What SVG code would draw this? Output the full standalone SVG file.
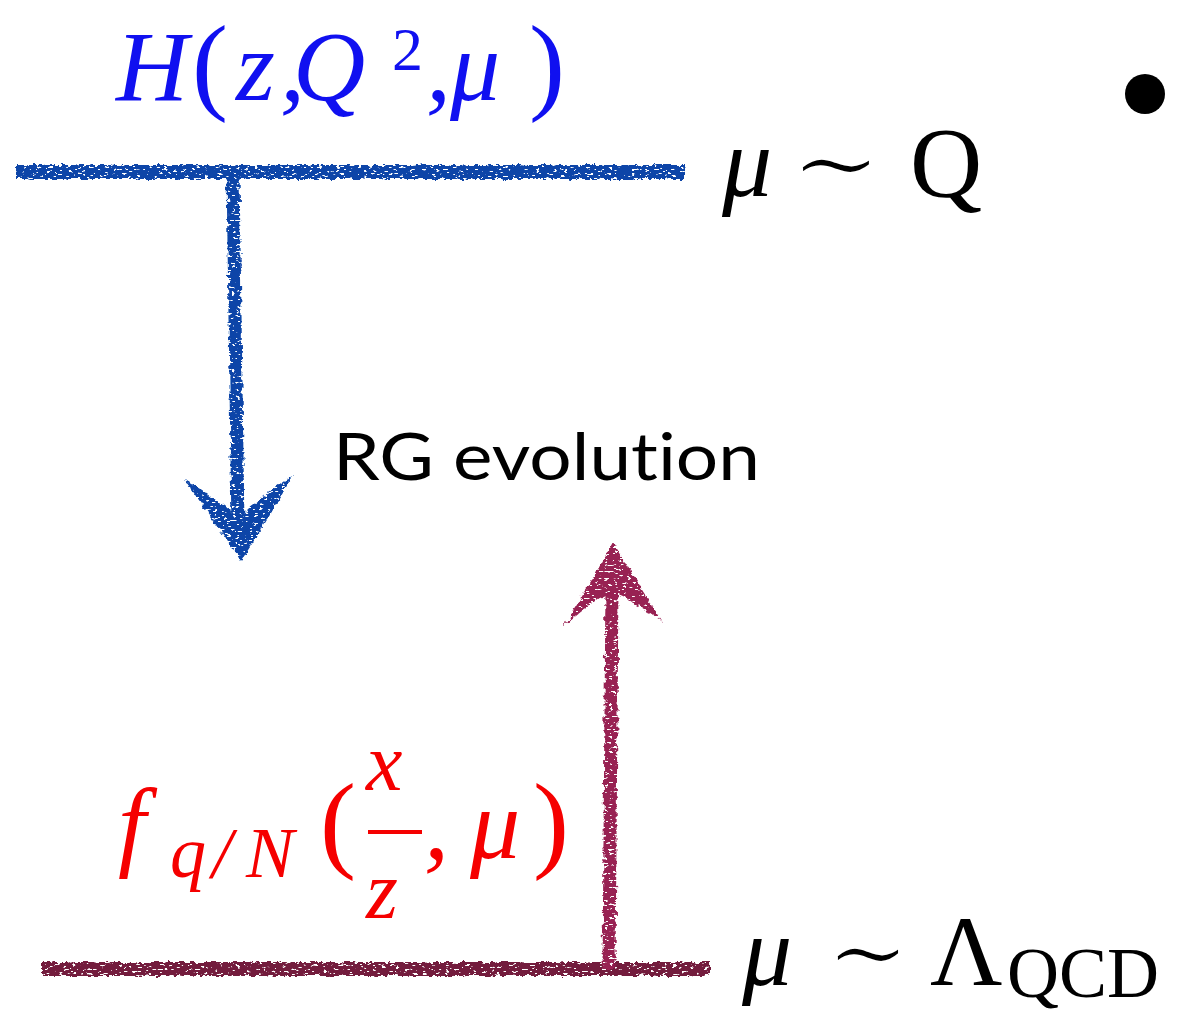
<svg xmlns="http://www.w3.org/2000/svg" width="1179" height="1014" viewBox="0 0 1179 1014">
<defs>
<filter id="rough" filterUnits="userSpaceOnUse" x="0" y="0" width="1179" height="1014">
<feTurbulence type="fractalNoise" baseFrequency="0.18" numOctaves="3" seed="3" result="n"/>
<feDisplacementMap in="SourceGraphic" in2="n" scale="6" xChannelSelector="R" yChannelSelector="G" result="d"/>
<feTurbulence type="fractalNoise" baseFrequency="0.22 0.45" numOctaves="2" seed="11" result="n2"/>
<feColorMatrix in="n2" type="matrix" values="0 0 0 0 0  0 0 0 0 0  0 0 0 0 0  18 0 0 0 -5.6" result="mask"/>
<feComposite in="d" in2="mask" operator="in"/>
</filter>
</defs>
<style>
.m{font-family:"Liberation Serif","DejaVu Serif",serif;}
.i{font-style:italic;}
.t{font-family:"DejaVu Serif",serif;font-style:normal;stroke:#fff;stroke-width:2.5;}
.blue{fill:#1010f0;}
.red{fill:#f50000;}
.blk{fill:#000;}
.sans{font-family:Lato,"Open Sans","Liberation Sans",sans-serif;fill:#000;font-variant-ligatures:none;}
</style>
<rect width="1179" height="1014" fill="#fff"/>

<g id="connectors" filter="url(#rough)">
<line x1="16" y1="172" x2="685" y2="172" stroke="#0a45a8" stroke-width="14"/>
<line x1="233" y1="172" x2="238" y2="528" stroke="#0a45a8" stroke-width="13"/>
<path d="M185,480 Q214,496 238,518 Q262,496 293,475 Q268,520 241,561 Q213,520 185,480 Z" fill="#0a45a8"/>
<line x1="42" y1="969" x2="710" y2="969" stroke="#731a3e" stroke-width="14"/>
<line x1="609" y1="969" x2="612" y2="585" stroke="#982052" stroke-width="13"/>
<path d="M613,542 Q638,585 663,622 Q636,602 612,592 Q588,602 563,627 Q590,585 613,542 Z" fill="#982052"/>
</g>

<g id="hard">
<text class="m blue" font-size="100" y="100"><tspan class="i" x="116">H</tspan><tspan x="192" font-size="108">(</tspan><tspan class="i" x="236">z</tspan><tspan class="i" x="280">,</tspan><tspan class="i" x="293">Q</tspan><tspan x="392" y="70" font-size="62">2</tspan><tspan class="i" x="426" y="100">,</tspan><tspan class="i" x="450">μ</tspan><tspan x="529" font-size="108">)</tspan></text>
</g>

<g id="scale-high">
<text class="m blk" font-size="100" y="196"><tspan class="i" x="722">μ</tspan><tspan class="t" x="790" font-size="96" textLength="92" lengthAdjust="spacingAndGlyphs">∼</tspan><tspan x="910">Q</tspan></text>
</g>

<g id="bullet"><circle cx="1145" cy="94" r="20" fill="#000"/></g>

<g id="rg-label">
<text class="sans" x="333" y="480" font-size="66" textLength="427" lengthAdjust="spacingAndGlyphs">RG evolution</text>
</g>

<g id="pdf">
<text class="m red" font-size="100" y="858"><tspan class="i" x="118">f</tspan><tspan class="i" x="170" y="877" font-size="72">q</tspan><tspan class="i" x="212" font-size="72">/</tspan><tspan class="i" x="246" font-size="72">N</tspan><tspan x="320" y="858" font-size="108">(</tspan><tspan class="i" x="424">,</tspan><tspan class="i" x="470">μ</tspan><tspan x="533" font-size="108">)</tspan></text>
<text class="m i red" font-size="82" x="366" y="790">x</text>
<line x1="368" y1="832" x2="422" y2="832" stroke="#f50000" stroke-width="4"/>
<text class="m i red" font-size="82" x="366" y="918">z</text>
</g>

<g id="scale-low">
<text class="m blk" font-size="100" y="985"><tspan class="i" x="742">μ</tspan><tspan class="t" x="826" font-size="96" textLength="84" lengthAdjust="spacingAndGlyphs">∼</tspan><tspan x="930">Λ</tspan><tspan x="1007" y="997" font-size="72">QCD</tspan></text>
</g>
</svg>
